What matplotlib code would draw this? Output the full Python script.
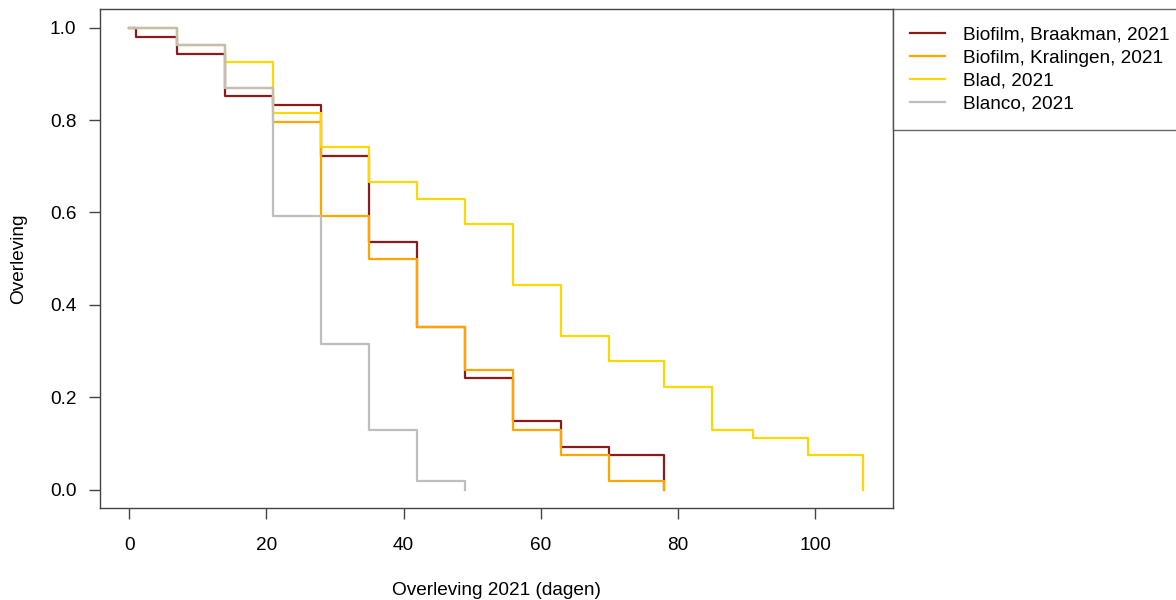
import matplotlib.pyplot as plt

plt.rcParams['font.family'] = ['Liberation Sans', 'DejaVu Sans']

# ----------------------------
# Kaplan-Meier steps (days, survival fraction)
# ----------------------------
braakman_t = [0, 1, 7, 14, 21, 28, 35, 42, 49, 56, 63, 70, 78]
braakman_s = [1.0, 0.981, 0.944, 0.852, 0.833, 0.722, 0.537, 0.352, 0.241, 0.148, 0.093, 0.074, 0.0]

kralingen_t = [0, 7, 14, 21, 28, 35, 42, 49, 56, 63, 70, 78]
kralingen_s = [1.0, 0.963, 0.870, 0.796, 0.593, 0.500, 0.352, 0.259, 0.130, 0.074, 0.019, 0.0]

blad_t = [0, 7, 14, 21, 28, 35, 42, 49, 56, 63, 70, 78, 85, 91, 99, 107]
blad_s = [1.0, 0.963, 0.926, 0.815, 0.741, 0.667, 0.630, 0.574, 0.444, 0.333, 0.278, 0.222,
          0.130, 0.111, 0.074, 0.0]

blanco_t = [0, 7, 14, 21, 28, 35, 42, 49]
blanco_s = [1.0, 0.963, 0.870, 0.593, 0.315, 0.130, 0.019, 0.0]

labels = ['Biofilm, Braakman, 2021', 'Biofilm, Kralingen, 2021', 'Blad, 2021', 'Blanco, 2021']
colors = ['#8B1A1A', '#FFA500', '#FFD700', '#BEBEBE']

x_ticks = [0, 20, 40, 60, 80, 100]
y_ticks = [0.0, 0.2, 0.4, 0.6, 0.8, 1.0]

fs = 13.7

# ----------------------------
# Plot
# ----------------------------
fig = plt.figure(figsize=(11.76, 6.0), dpi=100)
ax = fig.add_axes([0.085, 0.1533, 0.674, 0.8312])

series = [(braakman_t, braakman_s), (kralingen_t, kralingen_s),
          (blad_t, blad_s), (blanco_t, blanco_s)]
for (t, s), lab, col in zip(series, labels, colors):
    ax.step(t, s, where='post', color=col, linewidth=1.6, label=lab)

ax.set_xlim(-4.28, 111.28)
ax.set_ylim(-0.04, 1.04)
ax.set_xticks(x_ticks)
ax.set_xticklabels([str(v) for v in x_ticks])
ax.set_yticks(y_ticks)
ax.set_yticklabels([f'{v:.1f}' for v in y_ticks])

for sp in ax.spines.values():
    sp.set_color('#444444')
    sp.set_linewidth(1.0)
ax.tick_params(axis='x', length=8, width=1.0, color='#444444', pad=13, labelsize=fs)
ax.tick_params(axis='y', length=8, width=1.0, color='#444444', pad=9, labelsize=fs)

ax.set_xlabel('Overleving 2021 (dagen)', fontsize=fs)
ax.set_ylabel('Overleving', fontsize=fs)
ax.xaxis.set_label_coords(0.5, -0.148)
ax.yaxis.set_label_coords(-0.092, 0.5)

leg = ax.legend(loc='upper left', bbox_to_anchor=(1.0, 1.0), borderaxespad=0,
                fontsize=fs, frameon=True, fancybox=False, handlelength=1.85,
                handletextpad=0.95, labelspacing=0.3, borderpad=0.9)
leg.get_frame().set_edgecolor('#444444')
leg.get_frame().set_linewidth(1.0)
for line in leg.get_lines():
    line.set_linewidth(1.6)

fig.savefig('out.png', dpi=100)
